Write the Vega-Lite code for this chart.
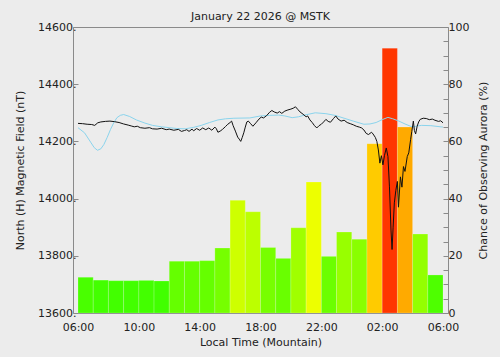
{
  "$schema": "https://vega.github.io/schema/vega-lite/v6.json",
  "width": 375,
  "height": 286,
  "autosize": {"type": "none"},
  "padding": {"left": 73, "top": 27, "right": 52, "bottom": 44},
  "background": "#ececec",
  "title": {"text": "January 22 2026 @ MSTK", "font": "DejaVu Sans", "fontSize": 11, "fontWeight": "normal", "color": "#222222", "frame": "group", "offset": -1},
  "config": {
    "view": {"stroke": "#8a8a8a", "strokeWidth": 1},
    "axis": {"labelFont": "DejaVu Sans", "titleFont": "DejaVu Sans", "labelFontSize": 11, "titleFontSize": 11, "titleFontWeight": "normal", "labelColor": "#222222", "titleColor": "#222222", "domainColor": "#8a8a8a", "tickColor": "#8a8a8a", "grid": false, "zindex": 1}
  },
  "datasets": {
    "aurora": [
      {"start": 0, "end": 1, "chance": 12.5},
      {"start": 1, "end": 2, "chance": 11.5},
      {"start": 2, "end": 3, "chance": 11.3},
      {"start": 3, "end": 4, "chance": 11.3},
      {"start": 4, "end": 5, "chance": 11.4},
      {"start": 5, "end": 6, "chance": 11.2},
      {"start": 6, "end": 7, "chance": 18.1},
      {"start": 7, "end": 8, "chance": 18.1},
      {"start": 8, "end": 9, "chance": 18.3},
      {"start": 9, "end": 10, "chance": 22.7},
      {"start": 10, "end": 11, "chance": 39.4},
      {"start": 11, "end": 12, "chance": 35.4},
      {"start": 12, "end": 13, "chance": 22.9},
      {"start": 13, "end": 14, "chance": 19.1},
      {"start": 14, "end": 15, "chance": 29.8},
      {"start": 15, "end": 16, "chance": 45.8},
      {"start": 16, "end": 17, "chance": 19.8},
      {"start": 17, "end": 18, "chance": 28.3},
      {"start": 18, "end": 19, "chance": 25.8},
      {"start": 19, "end": 20, "chance": 59.2},
      {"start": 20, "end": 21, "chance": 92.6},
      {"start": 21, "end": 22, "chance": 65.0},
      {"start": 22, "end": 23, "chance": 27.6},
      {"start": 23, "end": 24, "chance": 13.3}
    ],
    "quiet": [
      {"hour": 0, "nT": 14248}, {"hour": 0.43, "nT": 14230}, {"hour": 0.86, "nT": 14195}, {"hour": 1.07, "nT": 14178},
      {"hour": 1.28, "nT": 14169}, {"hour": 1.5, "nT": 14174}, {"hour": 1.7, "nT": 14189}, {"hour": 1.92, "nT": 14214},
      {"hour": 2.14, "nT": 14242}, {"hour": 2.35, "nT": 14265}, {"hour": 2.56, "nT": 14283}, {"hour": 2.78, "nT": 14291},
      {"hour": 3.0, "nT": 14294}, {"hour": 3.4, "nT": 14287}, {"hour": 3.84, "nT": 14275}, {"hour": 4.4, "nT": 14264},
      {"hour": 4.9, "nT": 14256}, {"hour": 5.5, "nT": 14251}, {"hour": 6.0, "nT": 14248}, {"hour": 6.5, "nT": 14245},
      {"hour": 7.05, "nT": 14244}, {"hour": 7.6, "nT": 14249}, {"hour": 8.1, "nT": 14256}, {"hour": 8.65, "nT": 14266},
      {"hour": 9.2, "nT": 14275}, {"hour": 9.7, "nT": 14279}, {"hour": 10.25, "nT": 14281}, {"hour": 11.3, "nT": 14282},
      {"hour": 12.0, "nT": 14289}, {"hour": 12.6, "nT": 14291}, {"hour": 13.2, "nT": 14292}, {"hour": 13.6, "nT": 14289},
      {"hour": 14.08, "nT": 14283}, {"hour": 14.5, "nT": 14286}, {"hour": 14.9, "nT": 14292}, {"hour": 15.6, "nT": 14300},
      {"hour": 16.3, "nT": 14297}, {"hour": 16.9, "nT": 14291}, {"hour": 17.5, "nT": 14281}, {"hour": 18.1, "nT": 14271},
      {"hour": 18.8, "nT": 14260}, {"hour": 19.2, "nT": 14261}, {"hour": 19.6, "nT": 14266}, {"hour": 20.0, "nT": 14276},
      {"hour": 20.38, "nT": 14284}, {"hour": 20.7, "nT": 14279}, {"hour": 21.1, "nT": 14271}, {"hour": 21.5, "nT": 14261},
      {"hour": 22.0, "nT": 14250}, {"hour": 22.3, "nT": 14254}, {"hour": 22.6, "nT": 14256}, {"hour": 23.2, "nT": 14255},
      {"hour": 24.0, "nT": 14250}
    ],
    "magnetic": [
      {"hour": 0.0, "nT": 14263}, {"hour": 0.3, "nT": 14262}, {"hour": 0.6, "nT": 14260}, {"hour": 0.9, "nT": 14259},
      {"hour": 1.1, "nT": 14256}, {"hour": 1.3, "nT": 14265}, {"hour": 1.5, "nT": 14268}, {"hour": 1.8, "nT": 14270},
      {"hour": 2.1, "nT": 14271}, {"hour": 2.4, "nT": 14269}, {"hour": 2.7, "nT": 14266}, {"hour": 3.0, "nT": 14261},
      {"hour": 3.3, "nT": 14257}, {"hour": 3.5, "nT": 14254}, {"hour": 3.7, "nT": 14251}, {"hour": 3.9, "nT": 14253},
      {"hour": 4.1, "nT": 14248}, {"hour": 4.4, "nT": 14246}, {"hour": 4.7, "nT": 14248}, {"hour": 4.9, "nT": 14244},
      {"hour": 5.2, "nT": 14243}, {"hour": 5.5, "nT": 14246}, {"hour": 5.8, "nT": 14241}, {"hour": 6.0, "nT": 14243},
      {"hour": 6.3, "nT": 14239}, {"hour": 6.6, "nT": 14242}, {"hour": 6.8, "nT": 14235}, {"hour": 7.0, "nT": 14238},
      {"hour": 7.15, "nT": 14241}, {"hour": 7.3, "nT": 14235}, {"hour": 7.5, "nT": 14243}, {"hour": 7.6, "nT": 14237},
      {"hour": 7.8, "nT": 14245}, {"hour": 8.0, "nT": 14239}, {"hour": 8.2, "nT": 14247}, {"hour": 8.4, "nT": 14241},
      {"hour": 8.6, "nT": 14247}, {"hour": 8.8, "nT": 14239}, {"hour": 9.0, "nT": 14250}, {"hour": 9.1, "nT": 14244},
      {"hour": 9.2, "nT": 14232}, {"hour": 9.35, "nT": 14236}, {"hour": 9.5, "nT": 14242}, {"hour": 9.7, "nT": 14252},
      {"hour": 9.85, "nT": 14260}, {"hour": 10.0, "nT": 14266}, {"hour": 10.1, "nT": 14271}, {"hour": 10.2, "nT": 14255},
      {"hour": 10.35, "nT": 14236}, {"hour": 10.5, "nT": 14215}, {"hour": 10.6, "nT": 14208}, {"hour": 10.7, "nT": 14200},
      {"hour": 10.8, "nT": 14214}, {"hour": 10.9, "nT": 14230}, {"hour": 11.0, "nT": 14250}, {"hour": 11.1, "nT": 14268},
      {"hour": 11.2, "nT": 14271}, {"hour": 11.35, "nT": 14262}, {"hour": 11.5, "nT": 14253}, {"hour": 11.7, "nT": 14265},
      {"hour": 11.9, "nT": 14278}, {"hour": 12.05, "nT": 14285}, {"hour": 12.2, "nT": 14282}, {"hour": 12.4, "nT": 14290},
      {"hour": 12.6, "nT": 14302}, {"hour": 12.75, "nT": 14308}, {"hour": 12.9, "nT": 14303}, {"hour": 13.1, "nT": 14299},
      {"hour": 13.25, "nT": 14304}, {"hour": 13.4, "nT": 14298}, {"hour": 13.6, "nT": 14306}, {"hour": 13.8, "nT": 14310},
      {"hour": 14.0, "nT": 14313}, {"hour": 14.15, "nT": 14316}, {"hour": 14.3, "nT": 14321}, {"hour": 14.45, "nT": 14312},
      {"hour": 14.6, "nT": 14303}, {"hour": 14.8, "nT": 14295}, {"hour": 15.0, "nT": 14286}, {"hour": 15.1, "nT": 14289},
      {"hour": 15.25, "nT": 14275}, {"hour": 15.4, "nT": 14266}, {"hour": 15.55, "nT": 14255}, {"hour": 15.7, "nT": 14247},
      {"hour": 15.85, "nT": 14255}, {"hour": 16.0, "nT": 14260}, {"hour": 16.15, "nT": 14268}, {"hour": 16.3, "nT": 14277},
      {"hour": 16.45, "nT": 14270}, {"hour": 16.6, "nT": 14267}, {"hour": 16.8, "nT": 14280}, {"hour": 16.95, "nT": 14289},
      {"hour": 17.1, "nT": 14278}, {"hour": 17.3, "nT": 14271}, {"hour": 17.5, "nT": 14274}, {"hour": 17.7, "nT": 14266},
      {"hour": 17.9, "nT": 14262}, {"hour": 18.1, "nT": 14258}, {"hour": 18.3, "nT": 14253}, {"hour": 18.5, "nT": 14250},
      {"hour": 18.65, "nT": 14247}, {"hour": 18.8, "nT": 14240}, {"hour": 18.95, "nT": 14228}, {"hour": 19.1, "nT": 14224},
      {"hour": 19.3, "nT": 14232}, {"hour": 19.4, "nT": 14226}, {"hour": 19.55, "nT": 14214}, {"hour": 19.65, "nT": 14200},
      {"hour": 19.75, "nT": 14170}, {"hour": 19.85, "nT": 14124}, {"hour": 19.95, "nT": 14150}, {"hour": 20.05, "nT": 14118},
      {"hour": 20.15, "nT": 14150}, {"hour": 20.27, "nT": 14177}, {"hour": 20.38, "nT": 14147}, {"hour": 20.48, "nT": 14041},
      {"hour": 20.58, "nT": 13890}, {"hour": 20.65, "nT": 13822}, {"hour": 20.72, "nT": 13900}, {"hour": 20.8, "nT": 13985},
      {"hour": 20.9, "nT": 14029}, {"hour": 21.0, "nT": 14060}, {"hour": 21.07, "nT": 13970}, {"hour": 21.2, "nT": 14076},
      {"hour": 21.3, "nT": 14040}, {"hour": 21.4, "nT": 14112}, {"hour": 21.5, "nT": 14095}, {"hour": 21.65, "nT": 14147},
      {"hour": 21.75, "nT": 14160}, {"hour": 21.87, "nT": 14206}, {"hour": 21.95, "nT": 14235}, {"hour": 22.05, "nT": 14271},
      {"hour": 22.12, "nT": 14238}, {"hour": 22.2, "nT": 14226}, {"hour": 22.3, "nT": 14253}, {"hour": 22.4, "nT": 14268},
      {"hour": 22.5, "nT": 14277}, {"hour": 22.7, "nT": 14281}, {"hour": 22.9, "nT": 14280}, {"hour": 23.1, "nT": 14276},
      {"hour": 23.3, "nT": 14278}, {"hour": 23.47, "nT": 14274}, {"hour": 23.7, "nT": 14270}, {"hour": 23.85, "nT": 14272},
      {"hour": 24.0, "nT": 14265}
    ]
  },
  "layer": [
    {
      "data": {"name": "aurora"},
      "mark": {"type": "bar", "orient": "vertical", "stroke": "#ffffff", "strokeOpacity": 0.3, "strokeWidth": 0.6},
      "encoding": {
        "x": {
          "field": "start", "type": "quantitative",
          "scale": {"domain": [0, 24], "nice": false, "zero": false},
          "axis": {"orient": "bottom", "title": "Local Time (Mountain)", "ticks": false, "domain": false, "values": [0, 4, 8, 12, 16, 20, 24], "labelExpr": "((datum.value + 6) % 24 < 10 ? '0' : '') + ((datum.value + 6) % 24) + ':00'", "labelPadding": 8, "labelOverlap": false, "labelFlush": false, "titlePadding": 4}
        },
        "x2": {"field": "end"},
        "y": {
          "field": "chance", "type": "quantitative",
          "scale": {"domain": [0, 100], "nice": false},
          "axis": {"orient": "right", "title": "Chance of Observing Aurora (%)", "titleAngle": 270, "values": [0, 5, 10, 15, 20, 25, 30, 35, 40, 45, 50, 55, 60, 65, 70, 75, 80, 85, 90, 95, 100], "labelExpr": "datum.value % 20 === 0 ? datum.label : ''", "tickSize": -5, "labelPadding": 5, "titlePadding": 20, "domain": false}
        },
        "y2": {"datum": 0},
        "color": {
          "field": "chance", "type": "quantitative", "legend": null,
          "scale": {"domain": [0, 11, 23, 39, 46, 59, 65, 93, 100], "range": ["#10ff00", "#40ff00", "#77ff00", "#ccff00", "#eeff00", "#ffcc00", "#ffaa00", "#ff3300", "#ff1100"]}
        }
      }
    },
    {
      "layer": [
        {
          "data": {"name": "quiet"},
          "mark": {"type": "line", "color": "#8ad4ec", "strokeWidth": 1},
          "encoding": {
            "x": {"field": "hour", "type": "quantitative", "axis": {"orient": "top", "labels": false, "title": null, "domain": false, "values": [0, 1, 2, 3, 4, 5, 6, 7, 8, 9, 10, 11, 12, 13, 14, 15, 16, 17, 18, 19, 20, 21, 22, 23, 24], "tickSize": -5}},
            "y": {
              "field": "nT", "type": "quantitative",
              "scale": {"domain": [13600, 14600], "nice": false, "zero": false},
              "axis": {"orient": "left", "title": "North (H) Magnetic Field (nT)", "values": [13600, 13650, 13700, 13750, 13800, 13850, 13900, 13950, 14000, 14050, 14100, 14150, 14200, 14250, 14300, 14350, 14400, 14450, 14500, 14550, 14600], "labelExpr": "datum.value % 200 === 0 ? datum.value + '.' : ''", "tickSize": -5, "labelPadding": 2, "titlePadding": 12, "domain": false}
            }
          }
        },
        {
          "data": {"name": "magnetic"},
          "mark": {"type": "line", "color": "#111111", "strokeWidth": 1},
          "encoding": {
            "x": {"field": "hour", "type": "quantitative", "axis": null},
            "y": {"field": "nT", "type": "quantitative"}
          }
        }
      ]
    }
  ],
  "resolve": {"scale": {"y": "independent"}, "axis": {"x": "independent"}}
}
